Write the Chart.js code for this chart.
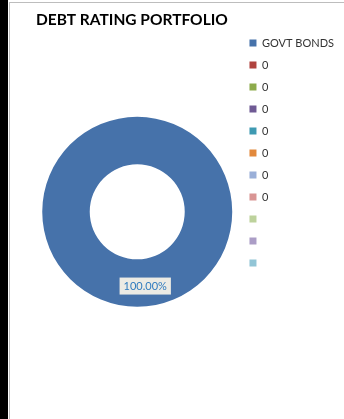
<!DOCTYPE html>
<html>
<head>
<meta charset="utf-8">
<script src="https://cdn.jsdelivr.net/npm/chart.js@4"></script>
<style>
  html, body { margin: 0; padding: 0; background: #fff; overflow: hidden; }
  #strip { position: absolute; left: 0; top: 0; width: 8px; height: 419px; background: #000; }
  #frame { position: absolute; left: 9px; top: 2px; width: 335px; height: 417px;
           border-left: 1px solid #BDBDBD; border-top: 1px solid #BDBDBD; }
  #chartBox { position: absolute; left: 10px; top: 3px; width: 334px; height: 416px; }
</style>
</head>
<body>
<div id="strip"></div>
<div id="frame"></div>
<div id="chartBox"><canvas id="debtChart"></canvas></div>
<script>
// -------- DATA --------
const categories = ["GOVT BONDS", "0", "0", "0", "0", "0", "0", "0", "", "", ""];
const shares = [100, 0, 0, 0, 0, 0, 0, 0, 0, 0, 0];
const sliceColors = [
  "#4672AA", "#B0433F", "#8DAB4C", "#6F5A94", "#3E9AB2", "#E2893C",
  "#9AAFD8", "#D99594", "#BDD29C", "#AB9DC6", "#92C5D6"
];
const chartTitle = "DEBT RATING PORTFOLIO";

// -------- DATA LABEL (boxed percentage on the ring) --------
const pctLabel = {
  id: "pctLabel",
  afterDatasetsDraw(chart) {
    const ctx = chart.ctx;
    const meta = chart.getDatasetMeta(0);
    const total = shares.reduce((a, b) => a + b, 0);
    meta.data.forEach((arc, i) => {
      if (!shares[i]) return;
      const pos = arc.tooltipPosition();
      const text = (shares[i] / total * 100).toFixed(2) + "%";
      ctx.save();
      ctx.font = "11px Lato";
      const w = ctx.measureText(text).width + 8;
      const h = 17;
      const x = pos.x + 8;
      const y = pos.y + 3;
      ctx.fillStyle = "#ECEBE4";
      ctx.fillRect(x - w / 2, y - h / 2, w, h);
      ctx.fillStyle = "#2F7BBF";
      ctx.textAlign = "center";
      ctx.textBaseline = "middle";
      ctx.fillText(text, x, y + 0.5);
      ctx.restore();
    });
  }
};

const ctx = document.getElementById("debtChart").getContext("2d");
const chart = new Chart(ctx, {
  type: "doughnut",
  data: {
    labels: categories,
    datasets: [{
      data: shares,
      backgroundColor: sliceColors,
      borderWidth: 0
    }]
  },
  options: {
    responsive: true,
    maintainAspectRatio: false,
    animation: false,
    cutout: "50%",
    radius: 95,
    layout: { padding: { left: 26, right: 0, top: 0, bottom: 22 } },
    plugins: {
      title: {
        display: true,
        text: chartTitle,
        align: "start",
        color: "#000",
        font: { family: "Lato", size: 15.5, weight: "bold", lineHeight: 1.2 },
        padding: { top: 8, bottom: -3 }
      },
      legend: {
        position: "right",
        align: "start",
        fullSize: false,
        labels: {
          boxWidth: 7,
          boxHeight: 7,
          padding: 11,
          color: "#333",
          font: { family: "Lato", size: 11 }
        }
      },
      tooltip: { enabled: false }
    }
  },
  plugins: [pctLabel]
});
</script>
</body>
</html>
